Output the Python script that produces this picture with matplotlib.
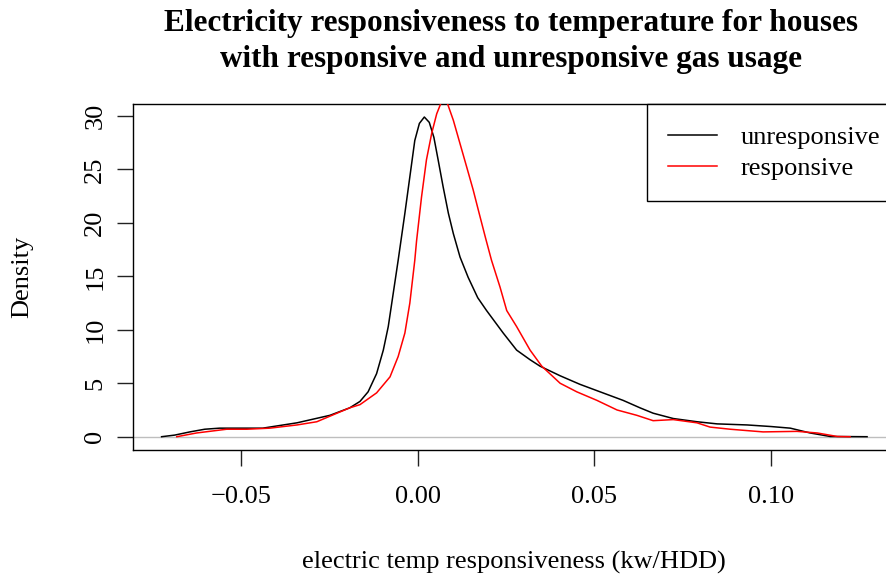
import matplotlib
matplotlib.use("Agg")
import matplotlib.pyplot as plt

plt.rcParams['font.family'] = ['Liberation Serif', 'DejaVu Serif']

# Density curve of unresponsive houses (x, density)
unresp_x = [-0.0724, -0.0687, -0.0644, -0.0602, -0.0560, -0.0500, -0.0438, -0.0341,
            -0.0248, -0.0192, -0.0163, -0.0140, -0.0116, -0.0097, -0.0083, -0.0069,
            -0.0055, -0.0036, -0.0022, -0.0008, 0.0005, 0.0019, 0.0033, 0.0046,
            0.0058, 0.0072, 0.0087, 0.0101, 0.0120, 0.0143, 0.0170, 0.0195,
            0.0242, 0.0280, 0.0318, 0.0346, 0.0403, 0.0459, 0.0524, 0.0581,
            0.0629, 0.0666, 0.0723, 0.0790, 0.0847, 0.0932, 0.1000, 0.1054,
            0.1110, 0.1167, 0.1271]
unresp_y = [0.0, 0.15, 0.45, 0.7, 0.8, 0.8, 0.8, 1.3,
            2.0, 2.7, 3.3, 4.2, 5.9, 8.1, 10.3, 13.4,
            16.5, 20.9, 24.3, 27.7, 29.3, 29.9, 29.4, 28.0,
            25.9, 23.4, 20.9, 19.0, 16.8, 14.9, 13.0, 11.8,
            9.7, 8.1, 7.2, 6.6, 5.7, 4.9, 4.1, 3.4,
            2.7, 2.2, 1.7, 1.4, 1.2, 1.1, 0.95, 0.8,
            0.35, 0.02, 0.0]

# Density curve of responsive houses (x, density)
resp_x = [-0.0681, -0.0625, -0.0540, -0.0483, -0.0418, -0.0341, -0.0285, -0.0228,
          -0.0192, -0.0163, -0.0116, -0.0078, -0.0055, -0.0036, -0.0022, -0.0008,
          -0.0003, 0.0011, 0.0025, 0.0040, 0.0054, 0.0066, 0.0075, 0.0084,
          0.0101, 0.0120, 0.0139, 0.0157, 0.0174, 0.0192, 0.0209, 0.0233,
          0.0252, 0.0280, 0.0318, 0.0351, 0.0403, 0.0450, 0.0507, 0.0564,
          0.0620, 0.0666, 0.0723, 0.0790, 0.0827, 0.0884, 0.0977, 0.1073,
          0.1130, 0.1187, 0.1223]
resp_y = [0.0, 0.35, 0.7, 0.7, 0.8, 1.1, 1.4, 2.2,
          2.7, 3.0, 4.1, 5.6, 7.5, 9.7, 12.5, 16.5,
          18.3, 22.4, 25.9, 28.4, 30.2, 31.2, 31.6, 31.2,
          29.6, 27.4, 25.2, 23.1, 20.9, 18.6, 16.5, 14.0,
          11.8, 10.3, 8.1, 6.6, 5.0, 4.2, 3.4, 2.5,
          2.0, 1.5, 1.6, 1.3, 0.9, 0.7, 0.45, 0.5,
          0.35, 0.02, 0.0]

x_ticks = [-0.05, 0.00, 0.05, 0.10]
x_ticklabels = ["\u22120.05", "0.00", "0.05", "0.10"]
y_ticks = [0, 5, 10, 15, 20, 25, 30]

title_lines = ["Electricity responsiveness to temperature for houses",
               "with responsive and unresponsive gas usage"]

W, H = 886, 578
fig = plt.figure(figsize=(W / 100, H / 100), dpi=100)
left, right, top, bottom = 133.3, 895.0, 104.3, 449.5
ax = fig.add_axes([left / W, 1 - bottom / H, (right - left) / W, (bottom - top) / H])

ax.axhline(0, color="#BEBEBE", lw=1.0, zorder=1)
ax.plot(unresp_x, unresp_y, color="black", lw=1.1, label="unresponsive", zorder=3)
ax.plot(resp_x, resp_y, color="#FF0000", lw=1.1, label="responsive", zorder=3)

ax.set_xlim(-0.0804, 0.135)
ax.set_ylim(-1.196, 31.09)

FS = 19
ax.set_xticks(x_ticks)
ax.set_xticklabels(x_ticklabels)
ax.set_yticks(y_ticks)
ax.set_yticklabels([str(v) for v in y_ticks], rotation=90, va="center")

for s in ax.spines.values():
    s.set_linewidth(1.0)
ax.tick_params(axis="both", length=11.5, width=1.0, labelsize=FS, color="#222222")
ax.tick_params(axis="x", pad=15)
ax.tick_params(axis="y", pad=8)

ax.set_xlabel("electric temp responsiveness (kw/HDD)", fontsize=FS)
ax.xaxis.set_label_coords(0.5, (bottom - 562) / (bottom - top))
ax.xaxis.label.set_va("center")
ax.set_ylabel("Density", fontsize=FS)
ax.yaxis.set_label_coords((22 - left) / (right - left), 0.5)
ax.yaxis.label.set_va("center")

cx = (right + left) / 2 / W
fig.text(cx - 3 / W, 1 - 30.7 / H, title_lines[0], ha="center", va="baseline",
         fontsize=22.5, fontweight="bold")
fig.text(cx - 3 / W, 1 - 66.7 / H, title_lines[1], ha="center", va="baseline",
         fontsize=22.5, fontweight="bold")

leg = ax.legend(loc="upper left", bbox_to_anchor=((647 - left) / (right - left), 1),
                borderaxespad=0, fancybox=False, framealpha=1, edgecolor="black",
                fontsize=FS, handlelength=1.85, handletextpad=0.9, borderpad=0.8,
                labelspacing=0.3)
leg.get_frame().set_linewidth(1.0)

fig.savefig("out.png", dpi=100)
